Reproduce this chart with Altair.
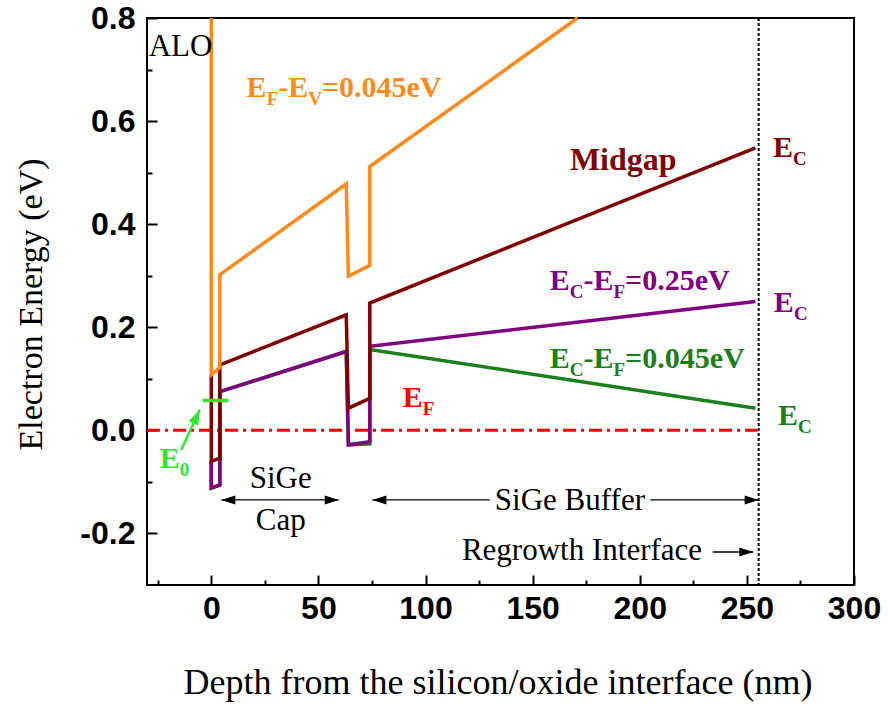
import altair as alt
import pandas as pd

# ---------------- data ----------------
orange_x = [0, 0, 4, 4, 63, 64, 74, 74, 171]
orange_y = [0.80, 0.108, 0.122, 0.302, 0.478, 0.299, 0.320, 0.512, 0.80]

midgap_x = [0, 0, 4, 4, 63, 64, 74, 74, 254]
midgap_y = [0.108, -0.060, -0.054, 0.127, 0.224, 0.043, 0.062, 0.247, 0.548]

ec025_x = [0, 0, 4, 4, 63, 64, 74, 74, 254]
ec025_y = [-0.060, -0.112, -0.106, 0.075, 0.153, -0.028, -0.022, 0.163, 0.250]

ec0045_x = [0, 0, 4, 4, 63, 64, 74, 74, 254]
ec0045_y = [-0.060, -0.112, -0.106, 0.075, 0.153, -0.028, -0.026, 0.157, 0.043]

ef_x = [-30, 255]
ef_y = [0.0, 0.0]

regrowth_x = [255.5]

e0_x = [-4, 8]
e0_y = [0.058, 0.058]
e0_arrow_x = [-14, -5.4]
e0_arrow_y = [-0.038, 0.040]

x_major = [0, 50, 100, 150, 200, 250, 300]
x_minor = [-25, 25, 75, 125, 175, 225, 275]
y_major = [-0.2, 0.0, 0.2, 0.4, 0.6, 0.8]
y_minor = [-0.1, 0.1, 0.3, 0.5, 0.7]

# double arrows (x from, x to, y)
arrow_segments = [
    (4.7, 59.5, -0.135),     # SiGe Cap
    (75.2, 130.0, -0.135),   # SiGe Buffer (left part)
    (205.0, 255.5, -0.135),  # SiGe Buffer (right part)
    (234.0, 253.0, -0.236),  # Regrowth Interface
]
left_heads = [(4.7, -0.135), (75.2, -0.135)]
right_heads = [(59.5, -0.135), (255.5, -0.135), (253.0, -0.236)]

# ---------------- styling ----------------
C_ORANGE = "#FF8A1C"
C_MAROON = "#800000"
C_PURPLE = "#800080"
C_GREEN = "#1B7F1B"
C_RED = "#FF0000"
C_LIME = "#2EE82E"

W, H = 707, 567
X_DOM = [-30, 300]
Y_DOM = [-0.3, 0.8]
PX_X = W / (X_DOM[1] - X_DOM[0])
PX_Y = H / (Y_DOM[1] - Y_DOM[0])

xs = alt.Scale(domain=X_DOM, nice=False, zero=False)
ys = alt.Scale(domain=Y_DOM, nice=False, zero=False)

SERIF = "Liberation Serif"
SANS = "Liberation Sans"


def xy(xv, yv):
    return pd.DataFrame({"x": xv, "y": yv, "o": list(range(len(xv)))})


def curve(xv, yv, color, width=3.5, dash=None):
    kw = dict(color=color, strokeWidth=width, strokeJoin="miter", strokeCap="butt")
    if dash:
        kw["strokeDash"] = dash
    return alt.Chart(xy(xv, yv)).mark_line(**kw).encode(
        x=alt.X("x:Q", scale=xs, axis=None),
        y=alt.Y("y:Q", scale=ys, axis=None),
        order="o:Q",
    )


# ---- rich labels with subscripts ----
BOLD_W = {"E": 0.667, "F": 0.611, "V": 0.722, "C": 0.722, "-": 0.333, "=": 0.570,
          ".": 0.25, "e": 0.444, "0": 0.5, "2": 0.5, "4": 0.5, "5": 0.5}
FS, SFS, DROP = 30, 19, 8


def rich(x0, y0, parts, color):
    rows, cur = [], 0.0
    for txt, sub in parts:
        size = SFS if sub else FS
        rows.append(dict(x=x0 + cur / PX_X, y=y0 - (DROP / PX_Y if sub else 0.0),
                         text=txt, color=color, size=size))
        cur += sum(BOLD_W.get(c, 0.5) for c in txt) * size
    return rows


bold_rows = []
bold_rows += rich(16.5, 0.647, [("E", 0), ("F", 1), ("-E", 0), ("V", 1), ("=0.045eV", 0)], C_ORANGE)
bold_rows += [dict(x=167.4, y=0.505, text="Midgap", color=C_MAROON, size=32)]
bold_rows += rich(262.2, 0.530, [("E", 0), ("C", 1)], C_MAROON)
bold_rows += rich(262.6, 0.230, [("E", 0), ("C", 1)], C_PURPLE)
bold_rows += rich(264.5, 0.0105, [("E", 0), ("C", 1)], C_GREEN)
bold_rows += rich(158.0, 0.272, [("E", 0), ("C", 1), ("-E", 0), ("F", 1), ("=0.25eV", 0)], C_PURPLE)
bold_rows += rich(158.0, 0.121, [("E", 0), ("C", 1), ("-E", 0), ("F", 1), ("=0.045eV", 0)], C_GREEN)
bold_rows += rich(89.4, 0.045, [("E", 0), ("F", 1)], C_RED)
bold_rows += rich(-24.1, -0.073, [("E", 0), ("0", 1)], C_LIME)
bold_df = pd.DataFrame(bold_rows)

left_text = pd.DataFrame({"x": [-29.2, 117.0], "y": [0.726, -0.251],
                          "text": ["ALO", "Regrowth Interface"]})
center_text = pd.DataFrame({"x": [32.4, 32.4, 167.4], "y": [-0.112, -0.193, -0.154],
                            "text": ["SiGe", "Cap", "SiGe Buffer"]})

# ---------------- layers ----------------
layers = []

ef_df = xy(ef_x, ef_y)
neg_fmt = "datum.value < 0 ? '-' + format(-datum.value, '.1f') : format(datum.value, '.1f')"

main_x_axis = alt.Axis(values=x_major, format="d", orient="bottom", labelFont=SANS,
                       labelFontWeight="bold", labelFontSize=32, labelColor="black",
                       labelPadding=8, ticks=False, tickSize=0, domain=False, grid=False,
                       labelFlush=False, labelOverlap=False,
                       title="Depth from the silicon/oxide interface (nm)", titleFont=SERIF,
                       titleFontSize=36, titleFontWeight="normal", titleColor="black",
                       titleX=W / 2 - 3, titleY=108, titleAlign="center", titleBaseline="alphabetic")
main_y_axis = alt.Axis(values=y_major, orient="left", labelExpr=neg_fmt, labelFont=SANS,
                       labelFontWeight="bold", labelFontSize=32, labelColor="black",
                       labelPadding=12, ticks=False, tickSize=0, domain=False, grid=False,
                       labelFlush=False, labelOverlap=False,
                       title="Electron Energy (eV)", titleFont=SERIF, titleFontSize=34,
                       titleFontWeight="normal", titleColor="black", titleX=-106, titleY=286,
                       titleAlign="center", titleBaseline="alphabetic", titleAngle=270)


def tick_axis(vals, orient, size):
    return alt.Axis(values=vals, orient=orient, labels=False, domain=False, grid=False,
                    ticks=True, tickSize=size, offset=-size, tickColor="black", tickWidth=2,
                    title=None)


def carrier(ax_x, ax_y):
    return alt.Chart(ef_df).mark_line(strokeOpacity=0).encode(
        x=alt.X("x:Q", scale=xs, axis=ax_x),
        y=alt.Y("y:Q", scale=ys, axis=ax_y),
    )


layers.append(carrier(main_x_axis, main_y_axis))
layers.append(carrier(tick_axis(x_major, "bottom", 10), tick_axis(y_major, "left", 10)))
layers.append(carrier(tick_axis(x_minor, "bottom", 5), tick_axis(y_minor, "left", 5)))

# regrowth interface dotted line
layers.append(alt.Chart(pd.DataFrame({"x": regrowth_x})).mark_rule(
    color="black", strokeWidth=2, strokeDash=[3, 2]).encode(
    x=alt.X("x:Q", scale=xs, axis=None)))

# Fermi level
layers.append(curve(ef_x, ef_y, C_RED, width=3, dash=[13, 5, 3, 5]))

# band curves (bottom to top)
layers.append(curve(ec0045_x, ec0045_y, C_GREEN))
layers.append(curve(ec025_x, ec025_y, C_PURPLE))
layers.append(curve(midgap_x, midgap_y, C_MAROON))
layers.append(curve(orange_x, orange_y, C_ORANGE))

# E0 level and arrow
layers.append(curve(e0_x, e0_y, C_LIME, width=3.5))
layers.append(curve(e0_arrow_x, e0_arrow_y, C_LIME, width=2.5))
layers.append(alt.Chart(pd.DataFrame({"x": [e0_arrow_x[1]], "y": [e0_arrow_y[1]]})).mark_point(
    shape="M0,-1L0.7,1L-0.7,1Z", size=225, filled=True, opacity=1, color=C_LIME,
    angle=24.6, xOffset=-3.1, yOffset=6.8).encode(
    x=alt.X("x:Q", scale=xs, axis=None), y=alt.Y("y:Q", scale=ys, axis=None)))

# region arrows
seg_rows = []
for i, (a, b, yv) in enumerate(arrow_segments):
    seg_rows += [dict(x=a, y=yv, g=i, o=0), dict(x=b, y=yv, g=i, o=1)]
layers.append(alt.Chart(pd.DataFrame(seg_rows)).mark_line(color="black", strokeWidth=1.3).encode(
    x=alt.X("x:Q", scale=xs, axis=None), y=alt.Y("y:Q", scale=ys, axis=None),
    detail="g:N", order="o:Q"))
layers.append(alt.Chart(pd.DataFrame(left_heads, columns=["x", "y"])).mark_point(
    shape="M-1,0L1,-0.65L1,0.65Z", size=196, filled=True, opacity=1, color="black",
    xOffset=7).encode(x=alt.X("x:Q", scale=xs, axis=None), y=alt.Y("y:Q", scale=ys, axis=None)))
layers.append(alt.Chart(pd.DataFrame(right_heads, columns=["x", "y"])).mark_point(
    shape="M1,0L-1,-0.65L-1,0.65Z", size=196, filled=True, opacity=1, color="black",
    xOffset=-7).encode(x=alt.X("x:Q", scale=xs, axis=None), y=alt.Y("y:Q", scale=ys, axis=None)))

# text
layers.append(alt.Chart(bold_df).mark_text(font=SERIF, fontWeight="bold", align="left",
                                           baseline="alphabetic").encode(
    x=alt.X("x:Q", scale=xs, axis=None), y=alt.Y("y:Q", scale=ys, axis=None),
    text="text:N", color=alt.Color("color:N", scale=None), size=alt.Size("size:Q", scale=None)))
layers.append(alt.Chart(left_text).mark_text(font=SERIF, fontSize=31, align="left",
                                             baseline="alphabetic", color="black").encode(
    x=alt.X("x:Q", scale=xs, axis=None), y=alt.Y("y:Q", scale=ys, axis=None), text="text:N"))
layers.append(alt.Chart(center_text).mark_text(font=SERIF, fontSize=31, align="center",
                                               baseline="alphabetic", color="black").encode(
    x=alt.X("x:Q", scale=xs, axis=None), y=alt.Y("y:Q", scale=ys, axis=None), text="text:N"))

chart = alt.layer(*layers).resolve_axis(x="independent", y="independent").properties(
    width=W, height=H,
    autosize=alt.AutoSizeParams(type="none"),
    padding={"left": 147, "top": 18, "right": 34, "bottom": 120},
    background="white",
).configure_view(stroke="black", strokeWidth=2)

chart.save("out.html", embed_options={"renderer": "svg", "actions": False})
